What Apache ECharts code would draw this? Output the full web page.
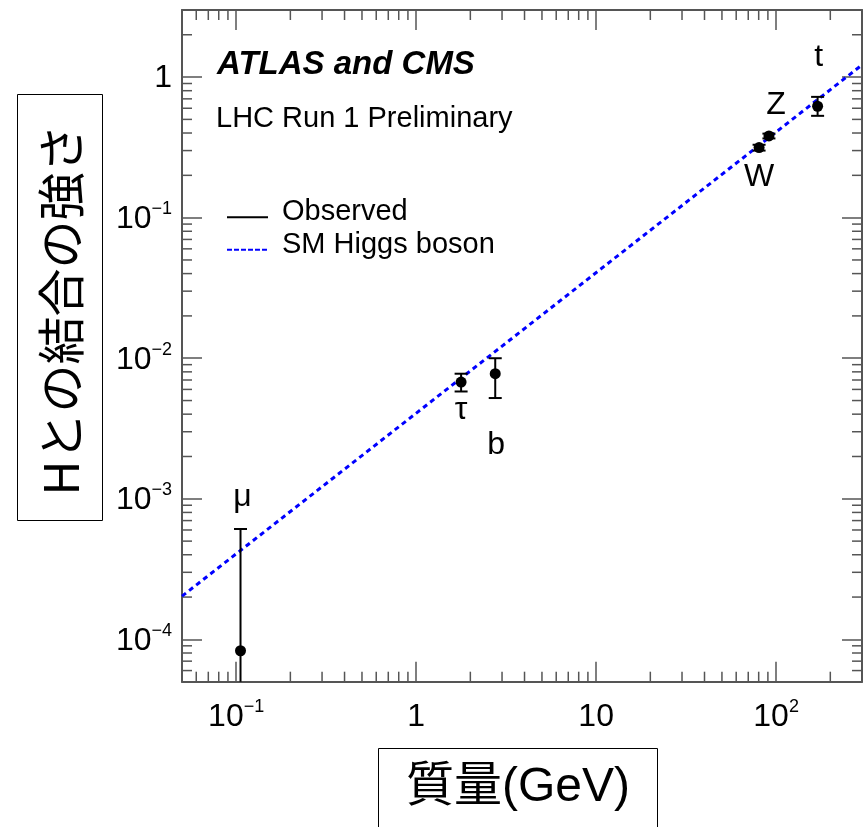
<!DOCTYPE html>
<html><head><meta charset="utf-8">
<script src="https://cdn.jsdelivr.net/npm/echarts@6/dist/echarts.min.js"></script>
<style>html,body{margin:0;padding:0;background:#fff}#c{width:866px;height:827px}</style>
</head><body><div id="c"></div>
<script>
// ---- data ----
const particles = ['μ', 'τ', 'b', 'W', 'Z', 't'];
const masses    = [0.1057, 1.777, 2.75, 80.4, 91.2, 170];
const couplings = [8.3e-5, 6.77e-3, 7.76e-3, 0.315, 0.381, 0.62];
const errLow    = [1e-5, 5.8e-3, 5.21e-3, 0.300, 0.366, 0.53];
const errHigh   = [6.1e-4, 7.76e-3, 1.0e-2, 0.330, 0.396, 0.723];
const smMass     = [0.05, 300];
const smCoupling = [2.03e-4, 1.22];
const xTickExponents = [-1, 0, 1, 2];
const yTickExponents = [-4, -3, -2, -1, 0];

// ---- styles ----
const X_MIN = 0.05, X_MAX = 300, Y_MIN = 5e-5, Y_MAX = 3;
const FRAME = '#555';
const FONT = 'Liberation Sans';
const labelOffsets = { 'μ': [2, -154], 'τ': [0, 28], 'b': [1, 71], 'W': [0, 30], 'Z': [7, -31], 't': [1, -49] };

function powLabel(exps) {
  return function (v) {
    const e = Math.log10(v), r = Math.round(e);
    if (Math.abs(e - r) > 1e-6 || exps.indexOf(r) < 0) return '';
    if (r === 0) return '{b|1}';
    if (r === 1) return '{b|10}';
    return '{b|10}{s|' + (r < 0 ? '\u2212' : '') + Math.abs(r) + '}';
  };
}
const richTick = {
  b: { fontFamily: FONT, fontSize: 32, lineHeight: 35, verticalAlign: 'bottom', color: '#000' },
  s: { fontFamily: FONT, fontSize: 18, lineHeight: 18, verticalAlign: 'top', color: '#000' }
};

// minor tick positions (2..9 x 10^k) inside the axis ranges
const minorTicks = [];
for (let e = -3; e <= 3; e++) for (let k = 2; k <= 9; k++) {
  const v = k * Math.pow(10, e);
  if (v > X_MIN && v < X_MAX) minorTicks.push([v, 1, 0]);
}
for (let e = -6; e <= 1; e++) for (let k = 2; k <= 9; k++) {
  const v = k * Math.pow(10, e);
  if (v > Y_MIN && v < Y_MAX) minorTicks.push([1, v, 1]);
}

function baseAxis(pos, isX, showLabel, exps) {
  return {
    type: 'log', logBase: 10, position: pos,
    min: isX ? X_MIN : Y_MIN, max: isX ? X_MAX : Y_MAX,
    axisLine: { show: true, onZero: false, lineStyle: { color: FRAME, width: 2 } },
    axisTick: { show: true, inside: true, length: 20, lineStyle: { color: FRAME, width: 1.5 } },
    minorTick: { show: false },
    splitLine: { show: false },
    axisLabel: showLabel ? { show: true, margin: isX ? 16 : 10, formatter: powLabel(exps), rich: richTick } : { show: false }
  };
}

const chart = echarts.init(document.getElementById('c'), null, { renderer: 'canvas' });
const option = {
  animation: false,
  backgroundColor: '#fff',
  grid: { left: 182, top: 10, width: 680, height: 671.7, outerBoundsMode: 'none', containLabel: false },
  xAxis: [baseAxis('bottom', true, true, xTickExponents), baseAxis('top', true, false)],
  yAxis: [baseAxis('left', false, true, yTickExponents), baseAxis('right', false, false)],
  title: [
    { text: 'ATLAS and CMS', left: 217, top: 49, padding: 0,
      textStyle: { fontFamily: FONT, fontWeight: 'bold', fontStyle: 'italic', fontSize: 33, lineHeight: 32, color: '#000' } },
    { text: 'LHC Run 1 Preliminary', left: 216, top: 105, padding: 0,
      textStyle: { fontFamily: FONT, fontWeight: 'normal', fontSize: 29, lineHeight: 28, color: '#000' } }
  ],
  legend: {
    orient: 'vertical', left: 227, top: 197.7, padding: 0,
    itemWidth: 41, itemHeight: 22, itemGap: 3.6, selectedMode: false,
    textStyle: { fontFamily: FONT, fontSize: 29, lineHeight: 28, color: '#000', padding: [0, 0, 0, 9] },
    data: [
      { name: 'Observed', icon: 'path://M0,-16L0.01,-16M0,6L0.01,6M0,-1H41V1H0Z', itemStyle: { color: '#000', borderWidth: 0 } },
      { name: 'SM Higgs boson', icon: 'path://M0,-16L0.01,-16M41,6L41.01,6M0,-1h5v2h-5zM7,-1h5v2h-5zM14,-1h5v2h-5zM21,-1h5v2h-5zM28,-1h5v2h-5zM35,-1h5v2h-5z', itemStyle: { color: '#0000ff', borderWidth: 0 } }
    ]
  },
  graphic: [
    { type: 'rect', shape: { x: 17.5, y: 94.5, width: 85, height: 426 }, style: { fill: 'none', stroke: '#000', lineWidth: 1 } },
    { type: 'text', x: 61, y: 310, rotation: Math.PI / 2,
      style: { text: 'Hとの結合の強さ', font: '48px "Noto Sans CJK JP"', fill: '#000', textAlign: 'center', textVerticalAlign: 'middle' } },
    { type: 'rect', shape: { x: 378.5, y: 748.5, width: 279, height: 95 }, style: { fill: 'none', stroke: '#000', lineWidth: 1 } },
    { type: 'text', x: 518, y: 788,
      style: { text: '質量(GeV)', font: '48px "Liberation Sans", "Noto Sans CJK JP"', fill: '#000', textAlign: 'center', textVerticalAlign: 'middle' } }
  ],
  series: [
    {
      type: 'custom', name: 'minor ticks', silent: true, clip: false, z: 1,
      data: minorTicks, encode: { x: 0, y: 1 },
      renderItem: function (params, api) {
        const cs = params.coordSys;
        const st = { stroke: FRAME, lineWidth: 1.5 };
        if (api.value(2) === 0) {
          const px = api.coord([api.value(0), api.value(1)])[0];
          const b = cs.y + cs.height;
          return { type: 'group', children: [
            { type: 'line', shape: { x1: px, y1: b, x2: px, y2: b - 10 }, style: st },
            { type: 'line', shape: { x1: px, y1: cs.y, x2: px, y2: cs.y + 10 }, style: st }
          ] };
        } else {
          const py = api.coord([api.value(0), api.value(1)])[1];
          const r = cs.x + cs.width;
          return { type: 'group', children: [
            { type: 'line', shape: { x1: cs.x, y1: py, x2: cs.x + 10, y2: py }, style: st },
            { type: 'line', shape: { x1: r, y1: py, x2: r - 10, y2: py }, style: st }
          ] };
        }
      }
    },
    {
      type: 'line', name: 'SM Higgs boson', z: 2,
      data: smMass.map((m, i) => [m, smCoupling[i]]),
      symbol: 'none', silent: true,
      lineStyle: { color: '#0000ff', width: 3, type: [5, 4] },
      itemStyle: { color: '#0000ff' }
    },
    {
      type: 'custom', name: 'Observed', z: 3, clip: false, silent: true,
      itemStyle: { color: '#000' },
      data: masses.map((m, i) => [m, couplings[i], errLow[i], errHigh[i]]),
      encode: { x: 0, y: 1 },
      renderItem: function (params, api) {
        const cs = params.coordSys;
        const x = api.value(0);
        const px = api.coord([x, api.value(1)])[0];
        const hi = api.coord([x, api.value(3)])[1];
        let lo = api.coord([x, api.value(2)])[1];
        const bottom = cs.y + cs.height;
        const clipped = lo > bottom;
        if (clipped) lo = bottom;
        const st = { stroke: '#000', lineWidth: 2 };
        const ch = [
          { type: 'line', shape: { x1: px, y1: hi, x2: px, y2: lo }, style: st },
          { type: 'line', shape: { x1: px - 6.5, y1: hi, x2: px + 6.5, y2: hi }, style: st }
        ];
        if (!clipped) ch.push({ type: 'line', shape: { x1: px - 6.5, y1: lo, x2: px + 6.5, y2: lo }, style: st });
        return { type: 'group', children: ch };
      }
    },
    {
      type: 'scatter', name: 'Observed', z: 4, silent: true,
      symbol: 'circle', symbolSize: 11,
      itemStyle: { color: '#000', opacity: 1 },
      data: masses.map((m, i) => ({
        value: [m, couplings[i]],
        label: {
          show: true, position: 'inside', formatter: particles[i],
          offset: labelOffsets[particles[i]],
          fontFamily: FONT, fontSize: 32, color: '#000', opacity: 1
        }
      }))
    }
  ]
};
chart.setOption(option);
</script>
</body></html>
